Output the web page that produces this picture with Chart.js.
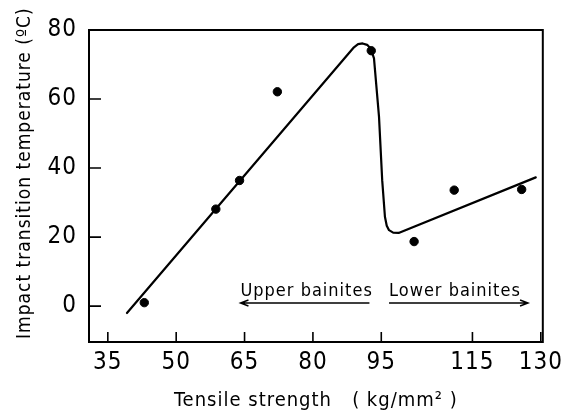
<!DOCTYPE html>
<html><head><meta charset="utf-8">
<script src="https://cdn.jsdelivr.net/npm/chart.js@4"></script>
<style>html,body{margin:0;padding:0;background:#fff}#wrap{width:569px;height:413px}canvas{display:block}</style>
</head><body><div id="wrap"><canvas id="c" width="569" height="413" style="width:569px;height:413px"></canvas></div>
<script>
// Measured data points (tensile strength kg/mm², transition temperature °C)
const tensileStrength = [43.0, 58.7, 63.9, 72.2, 92.8, 102.2, 111.0, 125.8];
const transitionTemp  = [1.0, 28.1, 36.4, 62.1, 74.0, 18.7, 33.6, 33.8];
// Fitted curve
const curveX = [39.2, 89.0, 89.9, 90.9, 91.9, 92.7, 93.4, 94.5, 95.2, 95.8, 96.2, 96.7, 97.6, 98.8, 128.9];
const curveY = [-2.0, 75.0, 75.9, 76.1, 75.7, 74.6, 71.8, 54.9, 36.5, 25.9, 23.3, 22.0, 21.3, 21.2, 37.3];
// Tick labels
const xTicks = [35, 50, 65, 80, 95, 115, 130];
const yTicks = [0, 20, 40, 60, 80];
// Region labels
const regionLabels = ['Upper bainites', 'Lower bainites'];
const regionSpans = [[64.1, 92.4], [96.7, 127.2]];

const FONT = '"DejaVu Sans Condensed", "DejaVu Sans", sans-serif';

const boxPlugin = {
  id: 'box',
  beforeUpdate(chart){ chart.ctx.letterSpacing = '1px'; },
  beforeDraw(chart){ chart.ctx.letterSpacing = '1px'; },
  afterDraw(chart){
    const ctx = chart.ctx, a = chart.chartArea, xs = chart.scales.x, ys = chart.scales.y;
    ctx.save();
    ctx.strokeStyle = '#000';
    ctx.lineWidth = 2;
    ctx.strokeRect(a.left, a.top, a.right - a.left, a.bottom - a.top);
    ctx.lineWidth = 1.6;
    ctx.beginPath();
    ys.ticks.forEach(t => { const p = ys.getPixelForValue(t.value); ctx.moveTo(a.left, p); ctx.lineTo(a.left + 12, p); });
    xs.ticks.forEach(t => { const p = xs.getPixelForValue(t.value); ctx.moveTo(p, a.bottom); ctx.lineTo(p, a.bottom - 10); });
    ctx.stroke();
    // region labels and arrows
    ctx.fillStyle = '#000';
    ctx.font = '18px ' + FONT;
    ctx.letterSpacing = '1px';
    ctx.textAlign = 'left';
    ctx.textBaseline = 'alphabetic';
    const ty = ys.getPixelForValue(3.0), ay = ys.getPixelForValue(0.9);
    regionLabels.forEach((lab, i) => {
      const x0 = xs.getPixelForValue(regionSpans[i][0]), x1 = xs.getPixelForValue(regionSpans[i][1]);
      ctx.fillText(lab, x0, ty);
      ctx.lineWidth = 1.4;
      ctx.beginPath();
      ctx.moveTo(x0, ay); ctx.lineTo(x1, ay);
      if (i === 0) { ctx.moveTo(x0 + 8, ay - 3); ctx.lineTo(x0, ay); ctx.lineTo(x0 + 8, ay + 3); }
      else { ctx.moveTo(x1 - 8, ay - 3); ctx.lineTo(x1, ay); ctx.lineTo(x1 - 8, ay + 3); }
      ctx.stroke();
    });
    ctx.restore();
  }
};

new Chart(document.getElementById('c'), {
  type: 'scatter',
  data: {
    datasets: [
      { data: curveX.map((x, i) => ({x, y: curveY[i]})), showLine: true, borderColor: '#000', borderWidth: 2.2,
        pointRadius: 0, tension: 0, borderJoinStyle: 'round', borderCapStyle: 'round' },
      { data: tensileStrength.map((x, i) => ({x, y: transitionTemp[i]})), pointRadius: 4.2,
        backgroundColor: '#000', borderColor: '#000', pointHoverRadius: 4.2 }
    ]
  },
  options: {
    responsive: false, animation: false, devicePixelRatio: 1,
    layout: { padding: { top: 30, right: 22, left: 0, bottom: 0 } },
    plugins: { legend: { display: false }, tooltip: { enabled: false } },
    scales: {
      x: {
        type: 'linear', min: 30.87, max: 130.44,
        afterBuildTicks(s){ s.ticks = xTicks.map(v => ({ value: v })); },
        afterFit(s){ s.height = 71; },
        grid: { display: false, drawTicks: false }, border: { display: false },
        ticks: { color: '#000', font: { family: FONT, size: 24 }, padding: 6, maxRotation: 0, autoSkip: false,
                 callback: v => String(v) },
        title: { display: true, text: 'Tensile strength   ( kg/mm² )', color: '#000',
                 font: { family: FONT, size: 20 }, padding: { top: 0, bottom: 0 } }
      },
      y: {
        type: 'linear', min: -10.4, max: 80,
        afterBuildTicks(s){ s.ticks = yTicks.map(v => ({ value: v })); },
        afterFit(s){ s.width = 89; },
        grid: { display: false, drawTicks: false }, border: { display: false },
        ticks: { color: '#000', font: { family: FONT, size: 24 }, padding: 12, autoSkip: false,
                 callback: v => String(v) },
        title: { display: true, text: '    Impact transition temperature (ºC)', color: '#000',
                 font: { family: FONT, size: 19 }, padding: { top: 14, bottom: 0 } }
      }
    }
  },
  plugins: [boxPlugin]
});
</script></body></html>
